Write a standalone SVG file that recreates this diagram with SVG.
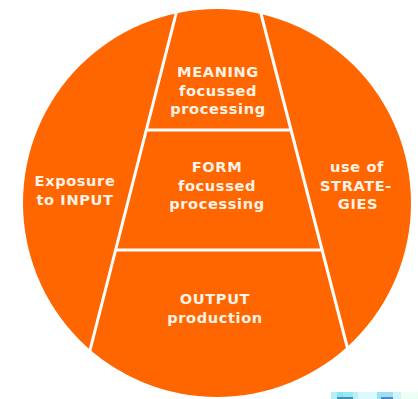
<svg xmlns="http://www.w3.org/2000/svg" width="418" height="399" viewBox="0 0 418 399">
  <style>
    .disc { fill: #ff6600; }
    .divider { stroke: #ffffff; stroke-width: 3; fill: none; stroke-linecap: butt; }
    .label { font-family: "DejaVu Sans", Verdana, sans-serif; font-weight: bold; font-size: 14.6px; fill: #fff2e6; text-anchor: middle; letter-spacing: 0.6px; }
  </style>
  <rect width="418" height="399" fill="#ffffff"/>

  <!-- main disc -->
  <circle class="disc" cx="217" cy="203" r="194"/>

  <!-- dividing lines -->
  <g id="connectors">
    <line class="divider" x1="177.5" y1="8" x2="89" y2="354"/>
    <line class="divider" x1="259.5" y1="8" x2="349" y2="354"/>
    <line class="divider" x1="146" y1="130" x2="291" y2="130"/>
    <line class="divider" x1="116" y1="250" x2="322" y2="250"/>
  </g>

  <g id="meaning">
    <text class="label" x="218" y="77">MEANING</text>
    <text class="label" x="218" y="96">focussed</text>
    <text class="label" x="218" y="114">processing</text>
  </g>

  <g id="form">
    <text class="label" x="217" y="172">FORM</text>
    <text class="label" x="217" y="191">focussed</text>
    <text class="label" x="217" y="209">processing</text>
  </g>

  <g id="input">
    <text class="label" x="75" y="186">Exposure</text>
    <text class="label" x="75" y="205">to INPUT</text>
  </g>

  <g id="strategies">
    <text class="label" x="357" y="172">use of</text>
    <text class="label" x="356" y="191">STRATE-</text>
    <text class="label" x="358" y="209">GIES</text>
  </g>

  <g id="output">
    <text class="label" x="215" y="304">OUTPUT</text>
    <text class="label" x="215" y="323">production</text>
  </g>

  <!-- small tinted strip along the lower right edge -->
  <g id="strip">
    <rect x="331" y="392" width="6" height="7" fill="#b4f0f6"/>
    <rect x="337" y="392" width="6" height="7" fill="#8fe4f2"/>
    <rect x="343" y="392" width="10" height="7" fill="#9ae8f4"/>
    <rect x="353" y="392" width="5" height="7" fill="#bdeef4"/>
    <rect x="358" y="392" width="19" height="7" fill="#dafaff"/>
    <rect x="377" y="392" width="10" height="7" fill="#9ae2f2"/>
    <rect x="387" y="392" width="6" height="7" fill="#a8dcf6"/>
    <rect x="393" y="392" width="8" height="7" fill="#cdf4f8"/>
    <rect x="401" y="392" width="17" height="7" fill="#ecfff4"/>
    <rect x="337" y="397" width="16" height="2" fill="#3d95ad"/>
    <rect x="381" y="397" width="12" height="2" fill="#4a8fc0"/>
  </g>
</svg>
